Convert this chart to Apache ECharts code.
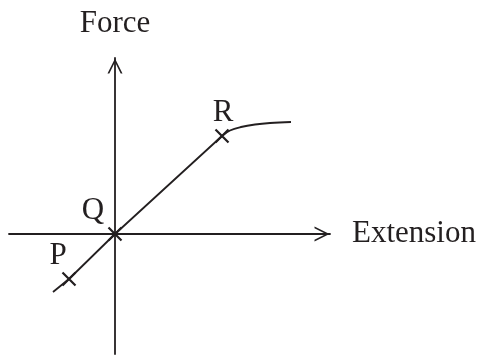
<!DOCTYPE html>
<html>
<head>
<meta charset="utf-8">
<script src="https://cdn.jsdelivr.net/npm/echarts@6/dist/echarts.min.js"></script>
<style>
  html, body { margin: 0; padding: 0; background: #fff; }
  #main { width: 482px; height: 356px; }
</style>
</head>
<body>
<div id="main"></div>
<script>
// elastic region: straight from P through Q to R
var linePoints = [[-62, -58], [-46, -45], [0, 0], [107, 98]]
// beyond R the curve bends over
var curvePoints = [[107, 98], [115, 103.5], [126, 107], [140, 109.5], [155, 111], [176, 112]]
// marked points and their names
var markNames = ['P', 'Q', 'R']
var markPoints = [[-46, -45], [0, 0], [107, 98]]

var xName = 'Extension'
var yName = 'Force'

var ink = '#231f20'
var font = 'Liberation Serif, Times New Roman, serif'
// open chevron, pointing up (rotated by echarts for each axis)
var chevron = 'path://M50,0 L100,100 L88,100 L50,24 L12,100 L0,100 Z'

var chartObj = echarts.init(document.getElementById('main'))

var labelOffsets = {
  P: [-11, -23],
  Q: [-22, -23],
  R: [1, -23]
}

var axisCommon = {
  type: 'value',
  axisTick: { show: false },
  axisLabel: { show: false },
  splitLine: { show: false },
  axisLine: {
    onZero: true,
    symbol: ['none', chevron],
    symbolSize: [15, 16],
    symbolOffset: [0, -8],
    lineStyle: { color: ink, width: 1.8 }
  },
  nameLocation: 'end'
}

var option = {
  animation: false,
  backgroundColor: '#fff',
  grid: {
    left: 9,
    right: 152,
    top: 58,
    bottom: 2,
    containLabel: false
  },
  xAxis: Object.assign({}, axisCommon, {
    min: -106,
    max: 215,
    name: xName,
    nameGap: 22,
    nameTextStyle: {
      fontFamily: font,
      fontSize: 31,
      color: ink,
      align: 'left',
      verticalAlign: 'middle',
      padding: [4, 0, 0, 0]
    }
  }),
  yAxis: Object.assign({}, axisCommon, {
    min: -120,
    max: 176,
    name: yName,
    nameGap: 34,
    nameTextStyle: {
      fontFamily: font,
      fontSize: 31,
      color: ink,
      align: 'center',
      verticalAlign: 'middle'
    }
  }),
  series: [
    {
      type: 'line',
      data: linePoints,
      symbol: 'none',
      lineStyle: { color: ink, width: 1.8 }
    },
    {
      type: 'line',
      data: curvePoints,
      symbol: 'none',
      smooth: 0.4,
      lineStyle: { color: ink, width: 1.8 }
    },
    {
      type: 'scatter',
      symbol: 'path://M0,0 L10,10 M10,0 L0,10',
      symbolSize: 13,
      itemStyle: { color: 'none', borderColor: ink, borderWidth: 2.2, opacity: 1 },
      data: markPoints.map(function(p, i) {
        return {
          value: p,
          name: markNames[i],
          label: {
            show: true,
            position: 'inside',
            offset: labelOffsets[markNames[i]],
            formatter: '{b}',
            fontFamily: font,
            fontSize: 31,
            color: ink,
            textBorderWidth: 0,
            opacity: 1
          }
        }
      })
    }
  ]
}

chartObj.setOption(option, true)
</script>
</body>
</html>
